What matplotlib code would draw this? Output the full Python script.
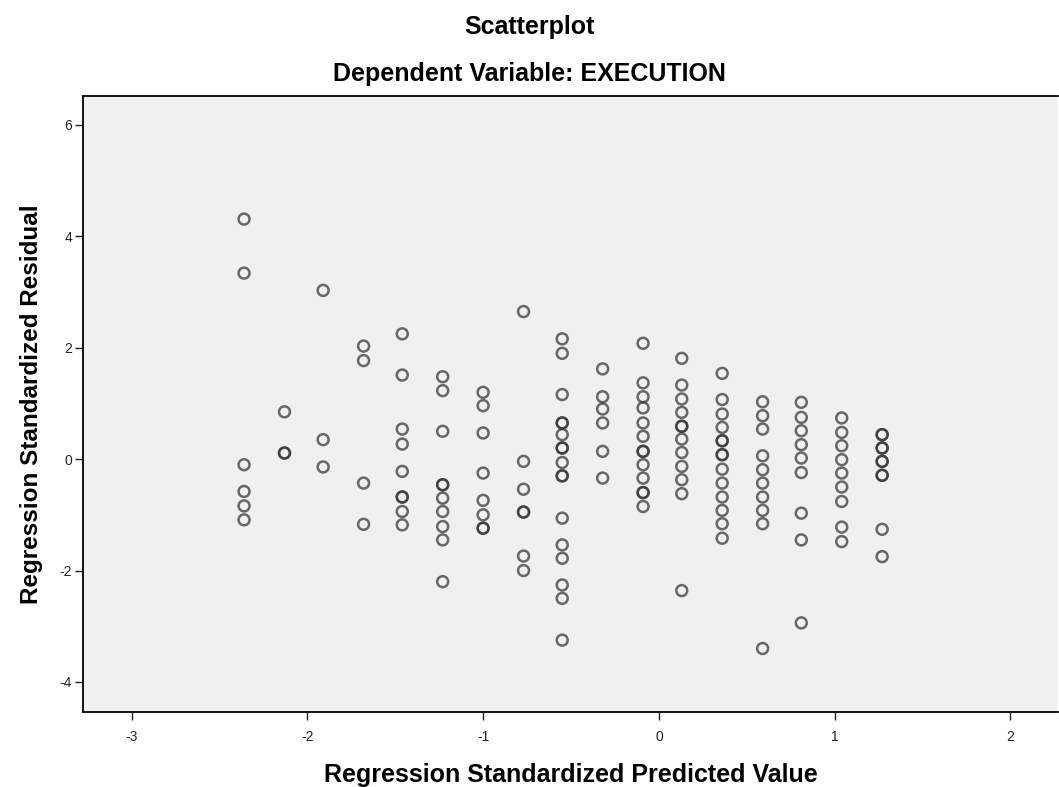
import matplotlib.pyplot as plt

# standardized predicted value of each column of points
pred_levels = [-2.36, -2.13, -1.91, -1.68, -1.46, -1.23, -1.00, -0.77, -0.55,
               -0.32, -0.09, 0.13, 0.36, 0.59, 0.81, 1.04, 1.27]

# standardized residuals (repeats = overlapping cases)
resid_cols = [
    [4.31, 3.34, -0.10, -0.58, -0.84, -1.09],
    [0.85, 0.11, 0.11],
    [3.03, 0.35, -0.14],
    [2.03, 1.77, -0.43, -1.17],
    [2.25, 1.51, 0.54, 0.27, -0.22, -0.68, -0.68, -0.94, -1.18],
    [1.48, 1.23, 0.50, -0.46, -0.46, -0.70, -0.94, -1.21, -1.45, -2.20],
    [1.20, 0.96, 0.47, -0.25, -0.74, -1.00, -1.24, -1.24],
    [2.65, -0.04, -0.54, -0.95, -0.95, -1.74, -2.00],
    [2.16, 1.90, 1.16, 0.65, 0.65, 0.44, 0.20, 0.20, -0.06, -0.30, -0.30,
     -1.06, -1.54, -1.78, -2.26, -2.50, -3.25],
    [1.62, 1.12, 0.90, 0.65, 0.14, -0.34],
    [2.08, 1.37, 1.12, 0.92, 0.65, 0.41, 0.14, 0.14, -0.10, -0.34, -0.60,
     -0.60, -0.85],
    [1.81, 1.33, 1.08, 0.84, 0.59, 0.59, 0.36, 0.12, -0.13, -0.37, -0.62,
     -2.36],
    [1.54, 1.07, 0.81, 0.57, 0.33, 0.33, 0.08, 0.08, -0.18, -0.43, -0.68,
     -0.92, -1.16, -1.42],
    [1.03, 0.78, 0.54, 0.06, -0.19, -0.43, -0.68, -0.92, -1.16, -3.40],
    [1.02, 0.75, 0.51, 0.26, 0.02, -0.24, -0.97, -1.45, -2.94],
    [0.74, 0.48, 0.24, -0.01, -0.25, -0.50, -0.76, -1.22, -1.48],
    [0.44, 0.44, 0.20, 0.20, -0.04, -0.04, -0.29, -0.29, -1.26, -1.75],
]

x_ticks = [-3, -2, -1, 0, 1, 2]
y_ticks = [-4, -2, 0, 2, 4, 6]

x = []
y = []
for p, col in zip(pred_levels, resid_cols):
    for r in col:
        x.append(p)
        y.append(r)

plt.rcParams['font.family'] = ['Liberation Sans', 'DejaVu Sans']

fig = plt.figure(figsize=(10.59, 7.87), dpi=100)
ax = fig.add_axes([0.0784, 0.0953, 0.9206, 0.7827])
ax.set_facecolor('#f0f0f0')

ax.scatter(x, y, s=62, facecolors='none', edgecolors='#333333',
           linewidths=1.8, alpha=0.72, zorder=3)

ax.set_xlim(-3.276, 2.27)
ax.set_ylim(-4.54, 6.52)
ax.set_xticks(x_ticks)
ax.set_yticks(y_ticks)
ax.set_xticklabels([str(v) for v in x_ticks])
ax.set_yticklabels([str(v) for v in y_ticks])
ax.tick_params(direction='out', length=6, width=1, labelsize=10,
               colors='#222222')
ax.tick_params(axis='x', pad=7)
ax.tick_params(axis='y', pad=2)

for s in ['left', 'bottom', 'top']:
    ax.spines[s].set_linewidth(1.3)
ax.spines['right'].set_visible(False)

ax.set_xlabel('Regression Standardized Predicted Value', fontsize=18,
              fontweight='bold', labelpad=14)
ax.set_ylabel('Regression Standardized Residual', fontsize=17.5,
              fontweight='bold', labelpad=12)

fig.text(0.5, 1 - 27 / 787, 'Scatterplot', ha='center', va='center',
         fontsize=18, fontweight='bold')
fig.text(0.5, 1 - 74 / 787, 'Dependent Variable: EXECUTION', ha='center',
         va='center', fontsize=18, fontweight='bold')

fig.savefig('out.png', dpi=100)
